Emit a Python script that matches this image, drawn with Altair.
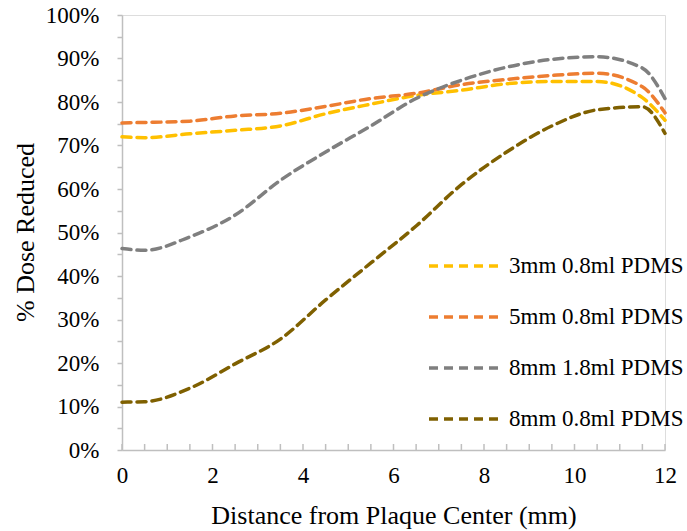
import altair as alt
import pandas as pd

distance = [0, 0.5, 1.5, 2.5, 3.5, 4.5, 5.5, 6.5, 7.5, 8.5, 9.5, 10.5, 11.5, 12]
s_3mm_08 = [72.0, 71.8, 72.7, 73.5, 74.5, 77.3, 79.5, 81.5, 82.7, 84.2, 84.7, 84.7, 81.0, 75.8]
s_5mm_08 = [75.2, 75.3, 75.6, 76.8, 77.4, 79.0, 80.8, 82.0, 84.0, 85.2, 86.1, 86.6, 83.5, 77.5]
s_8mm_18 = [46.3, 45.9, 49.0, 54.0, 62.0, 68.5, 74.5, 80.8, 85.0, 88.0, 89.8, 90.4, 87.8, 80.8]
s_8mm_08 = [11.0, 11.1, 14.2, 19.8, 25.5, 34.5, 43.0, 51.5, 61.0, 68.5, 74.5, 78.2, 78.9, 72.8]

series_names = ["3mm 0.8ml PDMS", "5mm 0.8ml PDMS", "8mm 1.8ml PDMS", "8mm 0.8ml PDMS"]
series_colors = ["#FFC000", "#ED7D31", "#7F7F7F", "#7F6000"]
series_values = [s_3mm_08, s_5mm_08, s_8mm_18, s_8mm_08]

x_ticks = [i * 0.5 for i in range(25)]
y_ticks = [i * 0.05 for i in range(21)]

rows = []
for name, vals in zip(series_names, series_values):
    for d, v in zip(distance, vals):
        rows.append({"Distance": d, "Value": v / 100.0, "Series": name})
df = pd.DataFrame(rows)
tick_df = pd.DataFrame({"t": x_ticks})

FONT = "Liberation Serif"

x_scale = alt.Scale(domain=[0, 12], nice=False, zero=False)
y_scale = alt.Scale(domain=[0, 1], nice=False)

lines = alt.Chart(df).mark_line(
    strokeWidth=3.5, strokeDash=[9, 6], strokeCap="round", interpolate="monotone"
).encode(
    x=alt.X("Distance:Q", scale=x_scale,
            axis=alt.Axis(values=x_ticks, ticks=False, tickSize=0,
                          labelExpr="datum.value % 2 == 0 ? datum.label : ''",
                          labelPadding=14, labelFontSize=23, labelFont=FONT,
                          labelColor="#000000", labelFlush=False,
                          domainColor="#BFBFBF", domainWidth=1.5,
                          grid=False,
                          title="Distance from Plaque Center (mm)",
                          titleFont=FONT, titleFontSize=26, titleFontWeight="normal",
                          titleColor="#000000", titleY=73, titleBaseline="alphabetic")),
    y=alt.Y("Value:Q", scale=y_scale,
            axis=alt.Axis(values=y_ticks, tickSize=5, tickColor="#BFBFBF", tickWidth=1.5,
                          labelExpr="round(datum.value*100) % 10 == 0 ? format(datum.value, '.0%') : ''",
                          labelPadding=18, labelFontSize=23, labelFont=FONT,
                          labelColor="#000000", labelFlush=False,
                          domainColor="#BFBFBF", domainWidth=1.5,
                          grid=False,
                          title="% Dose Reduced",
                          titleFont=FONT, titleFontSize=26, titleFontWeight="normal",
                          titleColor="#000000", titleAngle=270, titleX=-89, titleY=217,
                          titleAlign="center", titleBaseline="alphabetic")),
    color=alt.Color("Series:N",
                    scale=alt.Scale(domain=series_names, range=series_colors),
                    sort=series_names,
                    legend=alt.Legend(title=None, orient="none", legendX=305, legendY=214,
                                      symbolType="stroke", symbolSize=4900,
                                      symbolStrokeWidth=3.5, symbolDash=[9, 6],
                                      labelFont=FONT, labelFontSize=23, labelColor="#000000",
                                      labelOffset=8, rowPadding=2, padding=0,
                                      labelLimit=400)),
)

ticks = alt.Chart(tick_df).mark_rule(color="#BFBFBF", strokeWidth=1.5).encode(
    x=alt.X("t:Q", scale=x_scale),
    y=alt.value(429),
    y2=alt.value(435),
)

chart = alt.layer(ticks, lines).properties(
    width=543, height=435,
    autosize=alt.AutoSizeParams(type="none"),
    padding={"left": 122, "top": 15, "right": 22, "bottom": 81},
).configure_view(stroke=None).configure(background="white")

chart.save("out.html", embed_options={"renderer": "svg", "actions": False})
